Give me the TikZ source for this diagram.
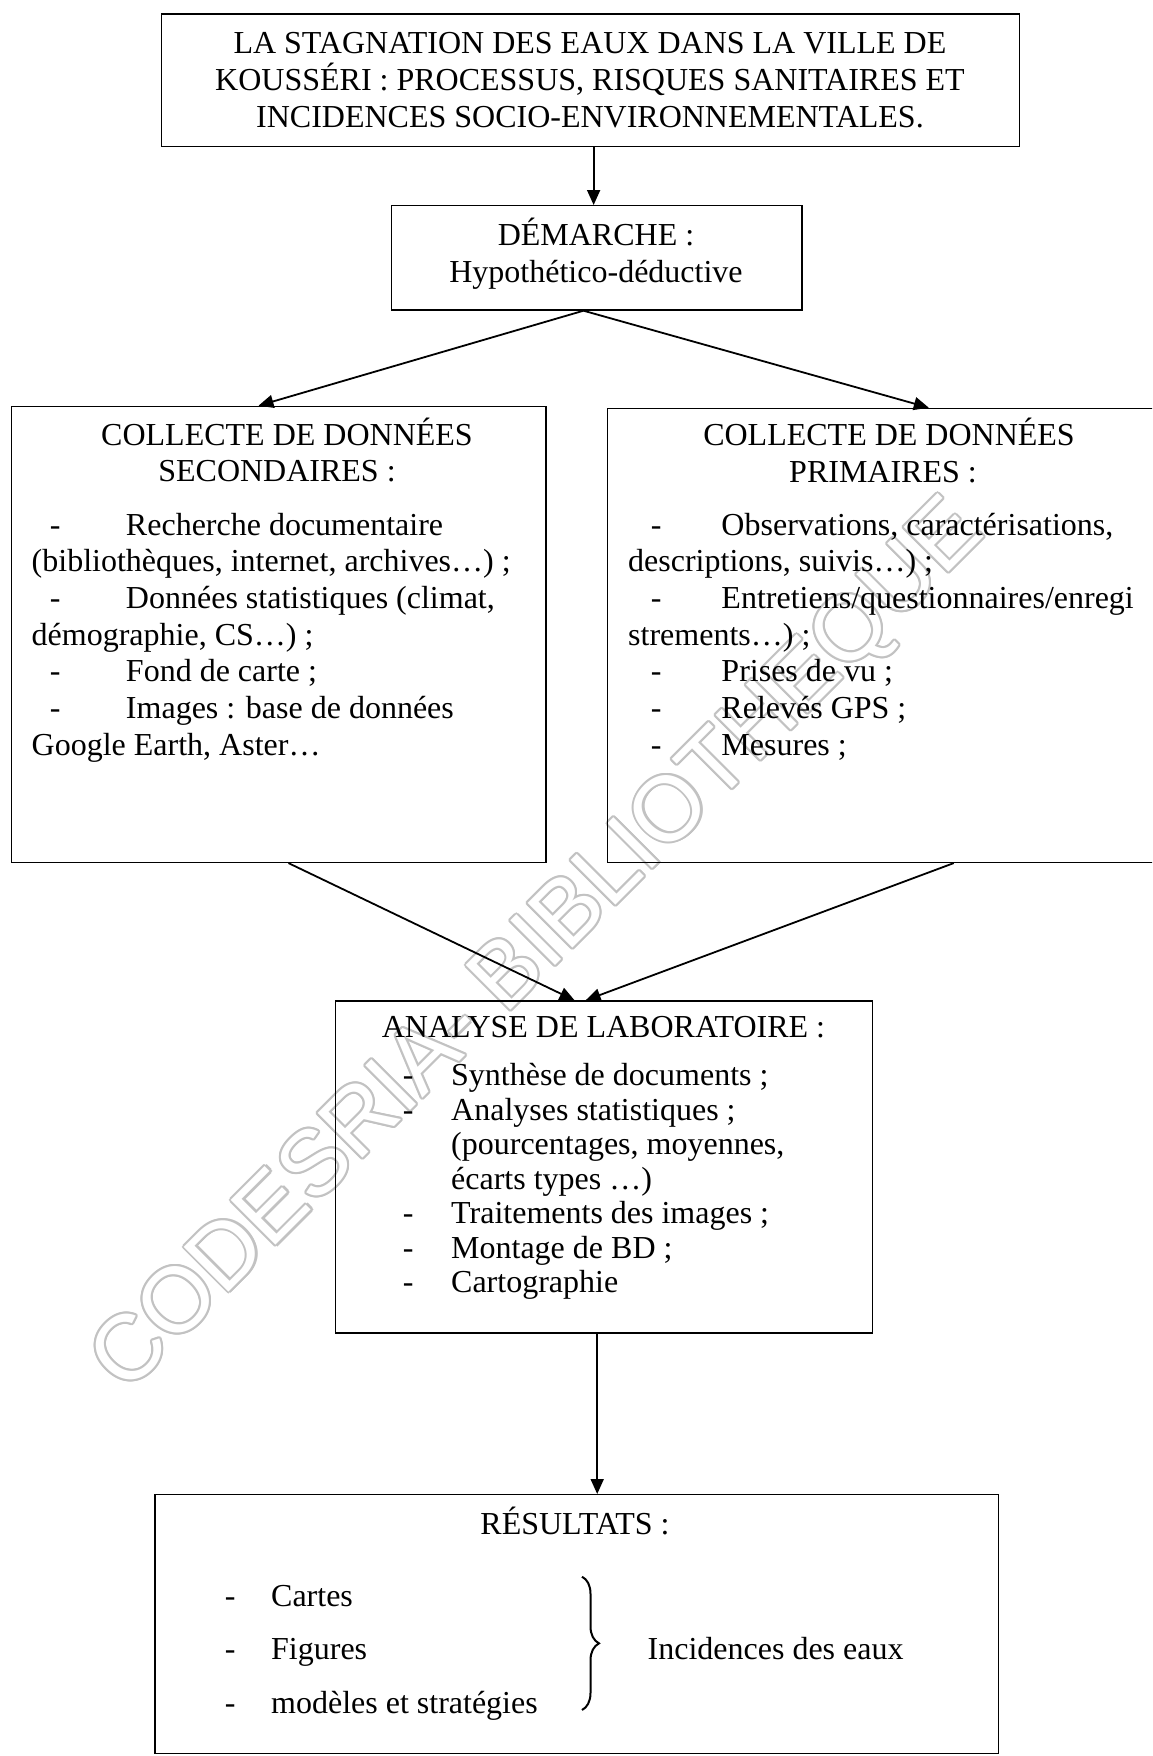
\documentclass[tikz,border=0pt]{standalone}
\usepackage{fontspec}
\setmainfont{Liberation Serif}
\newfontfamily\wmfont{Liberation Sans}
\usetikzlibrary{arrows.meta,calc,decorations.pathreplacing}
\newcommand\dashitem[2]{\hspace*{#1}\makebox[#2][l]{-}}
\newcommand\wmtext{CODESRIA- BIBLIOTHEQUE}
\tikzset{
  box/.style={draw, line width=1.4pt, rectangle, inner sep=0pt, anchor=north west},
  conn/.style={line width=1.8pt, -{Triangle[length=15pt,width=13pt]}},
  txt/.style={inner sep=0pt, font=\fontsize{32}{36.7}\selectfont},
  wmark/.style={inner sep=0pt, font=\wmfont\fontsize{92}{92}\selectfont, rotate=45},
}
\begin{document}
\begin{tikzpicture}[x=1pt,y=-1pt]
\useasboundingbox (0,0) rectangle (1152,1756);
\clip (0,0) rectangle (1152,1756);
\fill[white] (0,0) rectangle (1152,1756);

% watermark (outlined grey letters)
\coordinate (wmc) at (540,948);
\foreach \ang in {0,30,...,330}
  \node[wmark, text=black!24] at ($(wmc)+(\ang:2.1)$) {\wmtext};
\node[wmark, text=white] (wm) at (wmc) {\wmtext};

% boxes
\node[box, minimum width=858.3pt, minimum height=132.4pt] (top) at (160.7,13.3) {};
\node[box, minimum width=410.6pt, minimum height=104.3pt] (dem) at (390.7,205) {};
\node[box, minimum width=534.3pt, minimum height=456pt] (lbox) at (11,405.7) {};
\node[box, minimum width=558.3pt, minimum height=454pt] (rbox) at (606.7,407.7) {};
\node[box, minimum width=537pt, minimum height=332pt] (ana) at (335,1000.3) {};
\node[box, minimum width=843.2pt, minimum height=259pt] (res) at (154.4,1494) {};

% texts
\node[txt, font=\fontsize{32}{37}\selectfont, anchor=base] (toptxt) at (590,53)
  {\begin{tabular}[t]{@{}c@{}}LA STAGNATION DES EAUX DANS LA VILLE DE\\
   KOUSS\smash{É}RI : PROCESSUS, RISQUES SANITAIRES ET\\
   INCIDENCES SOCIO-ENVIRONNEMENTALES.\end{tabular}};

\node[txt, font=\fontsize{32}{37.7}\selectfont, anchor=base] (demtxt) at (596,245)
  {\begin{tabular}[t]{@{}c@{}}D\smash{É}MARCHE :\\ Hypothético-déductive\end{tabular}};

\node[txt, anchor=base] (lh1) at (287,445) {COLLECTE DE DONNÉES};
\node[txt, anchor=base] (lh2) at (277,481.7) {SECONDAIRES :};
\node[txt, anchor=base west] (llist) at (31.5,535)
  {\begin{tabular}[t]{@{}l@{}}
   \dashitem{18.1pt}{76.2pt}Recherche documentaire\\
   (bibliothèques, internet, archives…) ;\\
   \dashitem{18.1pt}{76.2pt}Données statistiques (climat,\\
   démographie, CS…) ;\\
   \dashitem{18.1pt}{76.2pt}Fond de carte ;\\
   \dashitem{18.1pt}{76.2pt}Images : base de données\\
   Google Earth, Aster…
  \end{tabular}};

\node[txt, anchor=base] (rh1) at (889,445) {COLLECTE DE DONNÉES};
\node[txt, anchor=base] (rh2) at (883,482.7) {PRIMAIRES :};
\node[txt, anchor=base west] (rlist) at (628,535)
  {\begin{tabular}[t]{@{}l@{}}
   \dashitem{22.7pt}{70.6pt}Observations, caractérisations,\\
   descriptions, suivis…) ;\\
   \dashitem{22.7pt}{70.6pt}Entretiens/questionnaires/enregi\\
   strements…) ;\\
   \dashitem{22.7pt}{70.6pt}Prises de vu ;\\
   \dashitem{22.7pt}{70.6pt}Relevés GPS ;\\
   \dashitem{22.7pt}{70.6pt}Mesures ;
  \end{tabular}};

\node[txt, anchor=base] (anah) at (603.5,1037.7) {ANALYSE DE LABORATOIRE :};
\node[txt, font=\fontsize{32}{34.5}\selectfont, anchor=base west] (alist) at (402.7,1085.7)
  {\begin{tabular}[t]{@{}l@{}}
   \dashitem{0pt}{48.3pt}Synthèse de documents ;\\
   \dashitem{0pt}{48.3pt}Analyses statistiques ;\\
   \hspace*{48.3pt}(pourcentages, moyennes,\\
   \hspace*{48.3pt}écarts types …)\\
   \dashitem{0pt}{48.3pt}Traitements des images ;\\
   \dashitem{0pt}{48.3pt}Montage de BD ;\\
   \dashitem{0pt}{48.3pt}Cartographie
  \end{tabular}};

\node[txt, anchor=base] (resh) at (575,1534) {RÉSULTATS :};
\node[txt, font=\fontsize{32}{53.7}\selectfont, anchor=base west] (rlist2) at (224.7,1606)
  {\begin{tabular}[t]{@{}l@{}}
   \dashitem{0pt}{46.3pt}Cartes\\
   \dashitem{0pt}{46.3pt}Figures\\
   \dashitem{0pt}{46.3pt}modèles et stratégies
  \end{tabular}};
\node[txt, anchor=base west] (inc) at (647.5,1659.3) {Incidences des eaux};

\coordinate (brtop) at (582,1576.7);
\coordinate (brbot) at (582,1710);
\draw[line width=2pt, decorate, decoration={brace, amplitude=17pt}] (brtop) -- (brbot);

% connectors
\coordinate (mid) at ($(top.south)!0.5!(dem.north)$);
\draw[conn] (mid |- top.south) -- (mid |- dem.north);
\coordinate (split) at ($(dem.south west)!0.468!(dem.south east)$);
\draw[conn] (split) -- ($(lbox.north west)!0.462!(lbox.north east)$);
\draw[conn] (split) -- ($(rbox.north west)!0.5755!(rbox.north east)$);
\draw[conn] ($(lbox.south west)!0.518!(lbox.south east)$) -- ($(ana.north west)!0.445!(ana.north east)$);
\draw[conn] ($(rbox.south west)!0.62!(rbox.south east)$) -- ($(ana.north west)!0.4655!(ana.north east)$);
\coordinate (down) at ($(ana.south west)!0.487!(ana.south east)$);
\draw[conn] (down) -- (down |- res.north);
\end{tikzpicture}
\end{document}
